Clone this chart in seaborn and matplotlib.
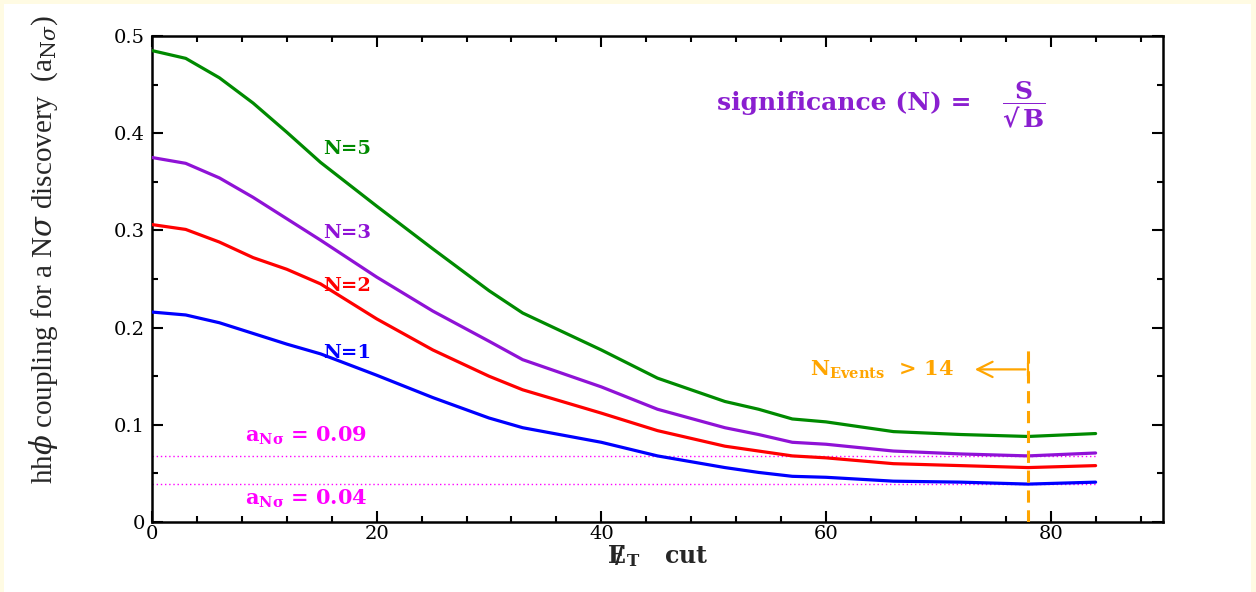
import numpy as np
import pandas as pd
import matplotlib
matplotlib.use("Agg")
import matplotlib.pyplot as plt
import seaborn as sns
from matplotlib.patches import Rectangle

# ---------------- data ----------------
met_cut = [0, 3, 6, 9, 12, 15, 20, 25, 30, 33, 40, 45, 51, 54, 57, 60, 66, 72, 78, 84]
coup_n5 = [0.485, 0.477, 0.457, 0.431, 0.401, 0.370, 0.325, 0.281, 0.238, 0.215, 0.177,
           0.148, 0.124, 0.116, 0.106, 0.103, 0.093, 0.090, 0.088, 0.091]
coup_n3 = [0.375, 0.369, 0.354, 0.334, 0.312, 0.290, 0.252, 0.217, 0.186, 0.167, 0.139,
           0.116, 0.097, 0.090, 0.082, 0.080, 0.073, 0.070, 0.068, 0.071]
coup_n2 = [0.306, 0.301, 0.288, 0.272, 0.260, 0.245, 0.209, 0.177, 0.150, 0.136, 0.112,
           0.094, 0.078, 0.073, 0.068, 0.066, 0.060, 0.058, 0.056, 0.058]
coup_n1 = [0.216, 0.213, 0.205, 0.194, 0.183, 0.173, 0.151, 0.128, 0.107, 0.097, 0.082,
           0.068, 0.056, 0.051, 0.047, 0.046, 0.042, 0.041, 0.039, 0.041]
series_names = ["N=5", "N=3", "N=2", "N=1"]
ref_levels = [0.068, 0.039]
ref_labels = [r"$\mathbf{a_{N\sigma}}$ = 0.09", r"$\mathbf{a_{N\sigma}}$ = 0.04"]
events_cut = 78
events_top = 0.182
x_ticks = [0, 20, 40, 60, 80]
y_ticks = [0, 0.1, 0.2, 0.3, 0.4, 0.5]
y_ticklabels = ["0", "0.1", "0.2", "0.3", "0.4", "0.5"]

colors = {"N=5": "#008a00", "N=3": "#8f12d6", "N=2": "#ff0000", "N=1": "#0000ff"}
magenta = "#ff00ff"
orange = "#ffa500"
purple_txt = "#8a1fd0"

df = pd.DataFrame({
    "cut": met_cut * 4,
    "coupling": coup_n5 + coup_n3 + coup_n2 + coup_n1,
    "N": sum([[n] * len(met_cut) for n in series_names], []),
})

# ---------------- style ----------------
sns.set_style("ticks")
plt.rcParams["font.family"] = ["DejaVu Serif"]
plt.rcParams["mathtext.fontset"] = "dejavuserif"

fig = plt.figure(figsize=(12.56, 5.92), dpi=100, facecolor="#fffbe3")
fig.patches.append(Rectangle((4 / 1256, 0), 1247 / 1256, 588 / 592, transform=fig.transFigure,
                             facecolor="white", edgecolor="none", zorder=-10))
ax = fig.add_axes([152 / 1256, 1 - 522 / 592, (1163 - 152) / 1256, (522 - 36) / 592])
ax.set_facecolor("white")

# reference dotted lines
for lvl in ref_levels:
    ax.plot([0, 84], [lvl, lvl], linestyle=(0, (1, 2)), color=magenta, lw=1.0, zorder=1)

sns.lineplot(data=df, x="cut", y="coupling", hue="N", palette=colors, linewidth=2.3,
             legend=False, ax=ax, zorder=3)

# vertical dashed line
ax.plot([events_cut, events_cut], [0, events_top], color=orange, lw=2.2,
        linestyle=(0, (4, 2.5)), zorder=4)

ax.set_xlim(0, 90)
ax.set_ylim(0, 0.5)
ax.set_xticks(x_ticks)
ax.set_xticks(np.arange(0, 90.1, 4), minor=True)
ax.set_yticks(y_ticks)
ax.set_yticklabels(y_ticklabels)
ax.set_yticks(np.arange(0, 0.501, 0.05), minor=True)
ax.tick_params(which="both", direction="in", top=True, right=True, width=1.5,
               labelsize=14, colors="black")
ax.tick_params(which="major", length=8, pad=5)
ax.tick_params(which="minor", length=4)
ax.tick_params(axis="x", pad=2)
for sp in ax.spines.values():
    sp.set_linewidth(1.8)
    sp.set_color("black")

ax.set_xlabel(r"$\mathbf{E}\hspace{-0.47}\mathbf{/}\hspace{0.15}_{\mathbf{T}}$   cut",
              fontsize=17, fontweight="bold", labelpad=0)
ax.set_ylabel(r"hh$\phi$ coupling for a N$\sigma$ discovery  (a$_{\mathrm{N}\sigma}$)",
              fontsize=21, family="Liberation Serif")
ax.yaxis.set_label_coords(-0.091, 0.56)

# curve labels
label_y = {"N=5": 0.384, "N=3": 0.297, "N=2": 0.243, "N=1": 0.174}
for n in series_names:
    ax.text(17.4, label_y[n], n, color=colors[n], fontsize=14, fontweight="bold",
            ha="center", va="center")

# reference level labels
ax.text(8.3, 0.089, ref_labels[0], color=magenta, fontsize=15, fontweight="bold", ha="left", va="center")
ax.text(8.3, 0.024, ref_labels[1], color=magenta, fontsize=15, fontweight="bold", ha="left", va="center")

# significance formula
ax.text(50.3, 0.431, "significance (N) =", color=purple_txt, fontsize=18, fontweight="bold",
        ha="left", va="center")
ax.text(77.6, 0.428, "$\\mathbf{\\dfrac{S}{\u221a\\,B}}$", color=purple_txt, fontsize=18,
        ha="center", va="center")

# N_events annotation
ax.text(58.6, 0.157, r"$\mathbf{N_{Events}}$  > 14", color=orange, fontsize=15,
        fontweight="bold", ha="left", va="center")
ax.annotate("", xy=(73.0, 0.157), xytext=(events_cut, 0.157),
            arrowprops=dict(arrowstyle="->,head_length=1.1,head_width=0.55", color=orange, lw=1.6))
ax.plot([events_cut, events_cut], [0.150, 0.164], color=orange, lw=1.6)

fig.savefig("out.png", dpi=100, facecolor=fig.get_facecolor())
